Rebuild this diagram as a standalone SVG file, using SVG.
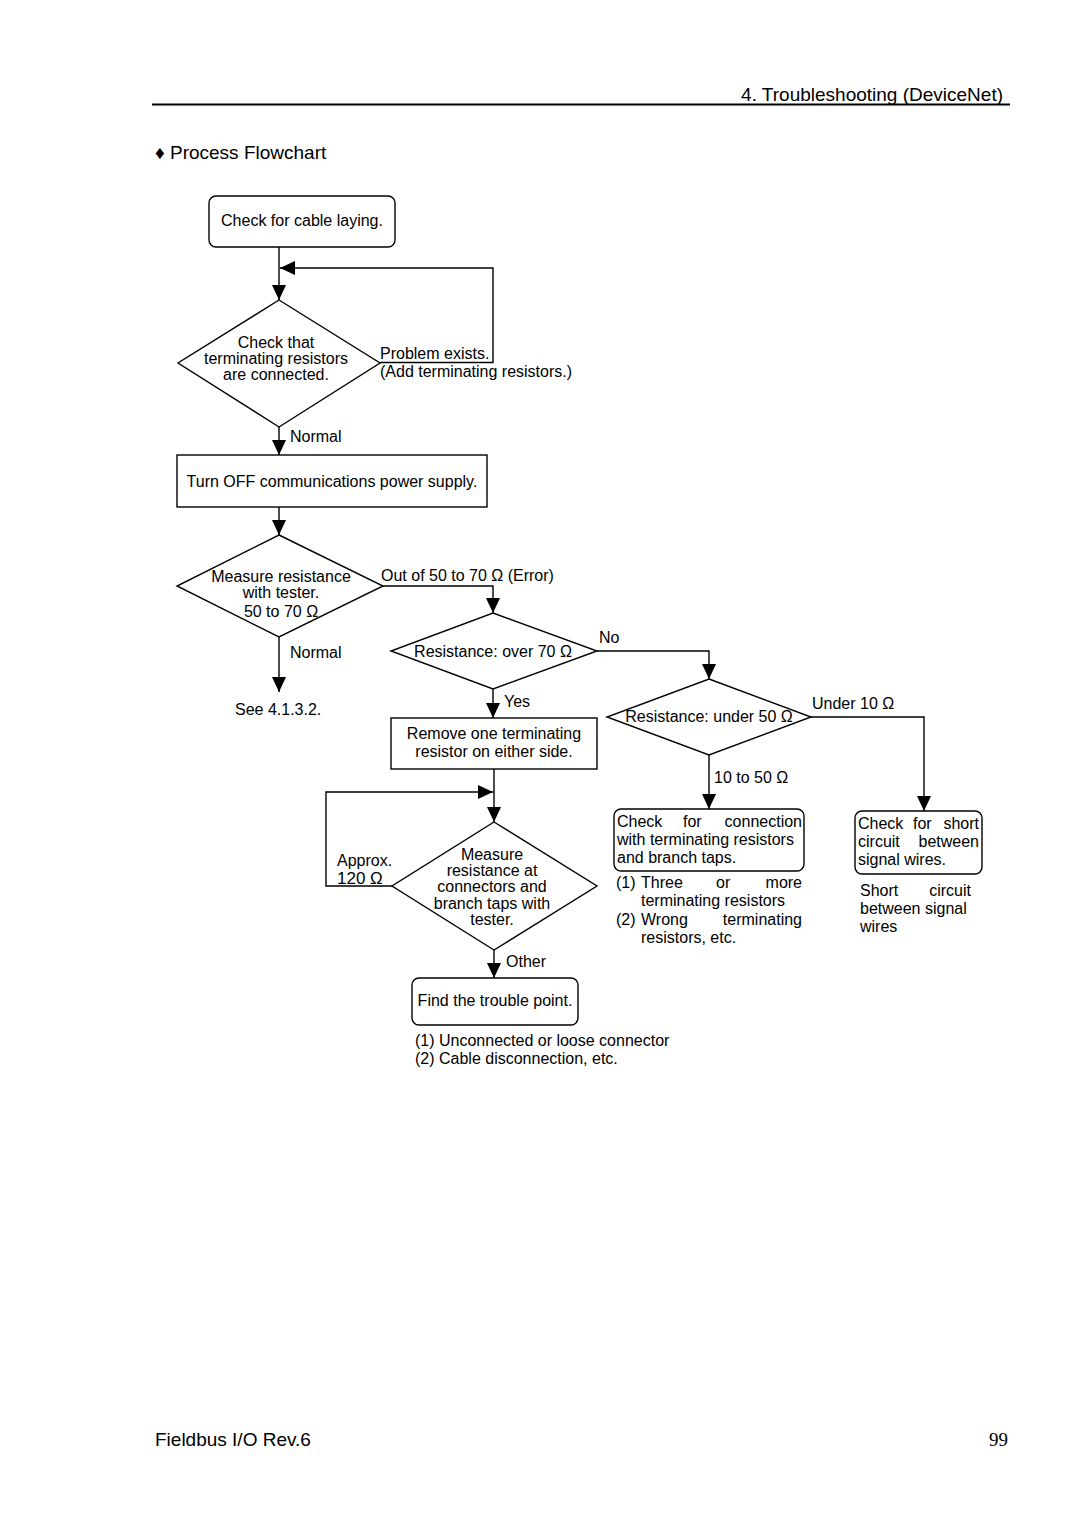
<svg xmlns="http://www.w3.org/2000/svg" width="1080" height="1528" viewBox="0 0 1080 1528">
<defs>
<marker id="ah" markerUnits="userSpaceOnUse" markerWidth="15" markerHeight="14" refX="15" refY="7" orient="auto">
<path d="M0,0 L15,7 L0,14 z" fill="#000"/>
</marker>
<style>
.s{fill:#fff;stroke:#000;stroke-width:1.4}
.t{font-family:"Liberation Sans",Arial,sans-serif;font-size:16px;fill:#000}
.c{text-anchor:middle}
.e{text-anchor:end}
.cn{fill:none;stroke:#000;stroke-width:1.4;marker-end:url(#ah)}
</style>
</defs>
<rect width="1080" height="1528" fill="#fff"/>
<g id="header">
<text x="1003" y="101" class="t e" style="font-size:19px">4. Troubleshooting (DeviceNet)</text>
<line x1="152" y1="104.5" x2="1010" y2="104.5" stroke="#000" stroke-width="2"/>
<text x="155" y="159" class="t" style="font-size:19px">♦ Process Flowchart</text>
</g>
<g id="connectors">
<path class="cn" d="M279,247 V300"/>
<path class="cn" d="M380,362.5 H493 V268 H280"/>
<path class="cn" d="M279,427 V455"/>
<path class="cn" d="M279,507 V535"/>
<path class="cn" d="M383,586 H493 V613"/>
<path class="cn" d="M279,637 V692"/>
<path class="cn" d="M597,651 H709 V679"/>
<path class="cn" d="M493,689 V718"/>
<path class="cn" d="M811,717 H924 V811"/>
<path class="cn" d="M709,754 V809"/>
<path class="cn" d="M494,769 V822"/>
<path class="cn" d="M392,886 H326 V792 H493"/>
<path class="cn" d="M494,950 V978"/>
</g>
<g id="labels">
<text x="380" y="359" class="t">Problem exists.</text>
<text x="380" y="377" class="t">(Add terminating resistors.)</text>
<text x="290" y="442" class="t">Normal</text>
<text x="381" y="581" class="t">Out of 50 to 70 Ω (Error)</text>
<text x="290" y="658" class="t">Normal</text>
<text x="235" y="715" class="t">See 4.1.3.2.</text>
<text x="599" y="643" class="t">No</text>
<text x="504" y="707" class="t">Yes</text>
<text x="812" y="709" class="t">Under 10 Ω</text>
<text x="714" y="783" class="t">10 to 50 Ω</text>
<text x="337" y="866" class="t">Approx.</text>
<text x="337" y="884" class="t" style="font-size:17px">120 Ω</text>
<text x="506" y="967" class="t">Other</text>
</g>
<g id="n1">
<rect x="209" y="196" width="186" height="51" rx="7" class="s"/>
<text x="302" y="226" class="t c">Check for cable laying.</text>
</g>
<g id="n2">
<polygon points="279,300 380,363 279,427 178,363" class="s"/>
<text x="276" y="348" class="t c">Check that</text>
<text x="276" y="364" class="t c">terminating resistors</text>
<text x="276" y="380" class="t c">are connected.</text>
</g>
<g id="n3">
<rect x="177" y="455" width="310" height="52" class="s"/>
<text x="332" y="487" class="t c">Turn OFF communications power supply.</text>
</g>
<g id="n4">
<polygon points="279,535 383,586 279,637 177,586" class="s"/>
<text x="281" y="582" class="t c">Measure resistance</text>
<text x="281" y="598" class="t c">with tester.</text>
<text x="281" y="617" class="t c">50 to 70 Ω</text>
</g>
<g id="n5">
<polygon points="493,613 597,651 493,689 391,651" class="s"/>
<text x="493" y="657" class="t c">Resistance: over 70 Ω</text>
</g>
<g id="n6">
<rect x="391" y="718" width="206" height="51" class="s"/>
<text x="494" y="739" class="t c">Remove one terminating</text>
<text x="494" y="757" class="t c">resistor on either side.</text>
</g>
<g id="n7">
<polygon points="709,679 811,717 709,755 607,717" class="s"/>
<text x="709" y="722" class="t c">Resistance: under 50 Ω</text>
</g>
<g id="n8">
<rect x="614" y="809" width="190" height="62" rx="7" class="s"/>
<text x="617" y="827" class="t">Check</text>
<text x="683" y="827" class="t">for</text>
<text x="802" y="827" class="t e">connection</text>
<text x="617" y="845" class="t">with terminating resistors</text>
<text x="617" y="863" class="t">and branch taps.</text>
<text x="616" y="888" class="t">(1)</text>
<text x="641" y="888" class="t">Three</text>
<text x="716" y="888" class="t">or</text>
<text x="802" y="888" class="t e">more</text>
<text x="641" y="906" class="t">terminating resistors</text>
<text x="616" y="925" class="t">(2)</text>
<text x="641" y="925" class="t">Wrong</text>
<text x="802" y="925" class="t e">terminating</text>
<text x="641" y="943" class="t">resistors, etc.</text>
</g>
<g id="n9">
<rect x="855" y="811" width="127" height="63" rx="7" class="s"/>
<text x="858" y="829" class="t">Check</text>
<text x="913" y="829" class="t">for</text>
<text x="979" y="829" class="t e">short</text>
<text x="858" y="847" class="t">circuit</text>
<text x="979" y="847" class="t e">between</text>
<text x="858" y="865" class="t">signal wires.</text>
<text x="860" y="896" class="t">Short</text>
<text x="971" y="896" class="t e">circuit</text>
<text x="860" y="914" class="t">between signal</text>
<text x="860" y="932" class="t">wires</text>
</g>
<g id="n10">
<polygon points="494,822 597,886 494,950 392,886" class="s"/>
<text x="492" y="860" class="t c">Measure</text>
<text x="492" y="876" class="t c">resistance at</text>
<text x="492" y="892" class="t c">connectors and</text>
<text x="492" y="909" class="t c">branch taps with</text>
<text x="492" y="925" class="t c">tester.</text>
</g>
<g id="n11">
<rect x="412" y="978" width="166" height="47" rx="7" class="s"/>
<text x="495" y="1006" class="t c">Find the trouble point.</text>
<text x="415" y="1046" class="t">(1) Unconnected or loose connector</text>
<text x="415" y="1064" class="t">(2) Cable disconnection, etc.</text>
</g>
<g id="footer">
<text x="155" y="1446" class="t" style="font-size:19px">Fieldbus I/O Rev.6</text>
<text x="1008" y="1446" class="e" style="font-family:'Liberation Serif','Times New Roman',serif;font-size:19px">99</text>
</g>
</svg>
